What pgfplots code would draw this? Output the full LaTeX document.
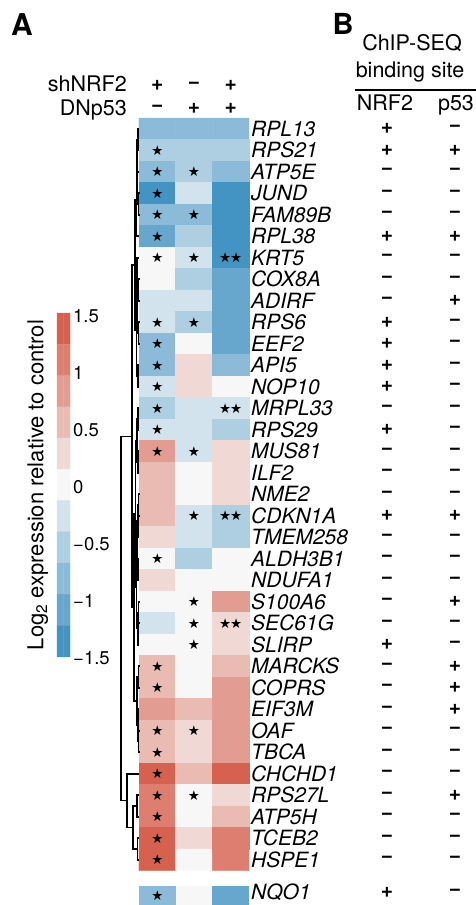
\documentclass[border=0pt]{standalone}
\usepackage{fontspec}
\setmainfont{TeX Gyre Heros}
\newfontfamily\symf{DejaVu Sans}
\usepackage{pgfplots}
\usepackage{pgfplotstable}
\pgfplotsset{compat=1.18}

\definecolor{b5}{HTML}{4393C3}
\definecolor{b4}{HTML}{67A7CD}
\definecolor{b3}{HTML}{8BBBD8}
\definecolor{b2}{HTML}{AFCFE2}
\definecolor{b1}{HTML}{D3E3ED}
\definecolor{w0}{HTML}{F7F7F7}
\definecolor{r1}{HTML}{F0D9D5}
\definecolor{r2}{HTML}{EABBB3}
\definecolor{r3}{HTML}{E39C92}
\definecolor{r4}{HTML}{DD7E70}
\definecolor{r5}{HTML}{D6604D}

\newcommand{\mn}{\symbol{"2212}}
\newcommand{\pl}{+}

% heatmap: column c, row r (top = 0), log2 value v
\pgfplotstableread{
c r v
0 0 -0.82
1 0 -0.82
2 0 -0.82
0 1 -0.55
1 1 -0.55
2 1 -0.55
0 2 -0.82
1 2 -0.55
2 2 -0.82
0 3 -1.36
1 3 -0.27
2 3 -1.36
0 4 -0.82
1 4 -0.82
2 4 -1.36
0 5 -1.09
1 5 -0.55
2 5 -1.36
0 6 0
1 6 -0.27
2 6 -1.36
0 7 0
1 7 -0.55
2 7 -1.09
0 8 -0.27
1 8 -0.27
2 8 -1.09
0 9 -0.27
1 9 -0.55
2 9 -1.09
0 10 -0.82
1 10 0
2 10 -1.09
0 11 -0.82
1 11 0.27
2 11 -0.82
0 12 -0.27
1 12 0.27
2 12 0
0 13 -0.55
1 13 -0.27
2 13 -0.27
0 14 -0.27
1 14 -0.27
2 14 -0.55
0 15 0.82
1 15 -0.27
2 15 0.27
0 16 0.55
1 16 0
2 16 0.27
0 17 0.55
1 17 0
2 17 0.27
0 18 0.55
1 18 -0.27
2 18 -0.55
0 19 0.27
1 19 -0.27
2 19 -0.55
0 20 0
1 20 -0.55
2 20 0
0 21 0.27
1 21 0
2 21 0
0 22 0
1 22 0
2 22 0.82
0 23 -0.27
1 23 0
2 23 0.27
0 24 0
1 24 0
2 24 0.27
0 25 0.55
1 25 0
2 25 0.55
0 26 0.55
1 26 0
2 26 0.82
0 27 0.82
1 27 0.55
2 27 0.82
0 28 0.55
1 28 0.27
2 28 0.82
0 29 0.55
1 29 0.27
2 29 0.82
0 30 1.36
1 30 0.55
2 30 1.36
0 31 1.09
1 31 0
2 31 0.27
0 32 1.09
1 32 0
2 32 0.55
0 33 1.36
1 33 0.27
2 33 1.09
0 34 1.36
1 34 0
2 34 1.09
}\heat

\pgfplotstableread{
c r
0 1
0 2
0 3
0 4
0 5
0 6
0 9
0 10
0 11
0 12
0 13
0 14
0 15
0 20
0 25
0 26
0 28
0 29
0 30
0 31
0 32
0 33
0 34
0 35.69
1 2
1 4
1 6
1 9
1 15
1 18
1 22
1 23
1 24
1 28
1 31
}\onestar

\pgfplotstableread{
c r
2 6
2 13
2 18
2 23
}\twostar

\pgfplotstableread{
c r v
0 0 1.36
1 0 1.36
0 1 1.09
1 1 1.09
0 2 0.82
1 2 0.82
0 3 0.55
1 3 0.55
0 4 0.27
1 4 0.27
0 5 0
1 5 0
0 6 -0.27
1 6 -0.27
0 7 -0.55
1 7 -0.55
0 8 -0.82
1 8 -0.82
0 9 -1.09
1 9 -1.09
0 10 -1.36
1 10 -1.36
}\cbar

\newcommand{\dl}[5]{\addplot[dendro] coordinates {(#4,#2) (#1,#2) (#1,#3) (#5,#3)};}
\newcommand{\gr}[4]{%
  \node[gene] at (axis cs:251,{128.75+21.5*#1}) {#2};
  \node[pm] at (axis cs:387,{128.75+21.5*#1}) {#3};
  \node[pm] at (axis cs:455,{128.75+21.5*#1}) {#4};}

\begin{document}
\begin{tikzpicture}
\tikzset{
  gene/.style={anchor=west, inner sep=0pt, font=\fontsize{21}{21}\selectfont\itshape},
  pm/.style={inner sep=0pt, font=\fontsize{21}{21}\selectfont\bfseries},
  hd/.style={inner sep=0pt, font=\fontsize{21.5}{22}\selectfont},
  cb/.style={anchor=west, inner sep=0pt, font=\fontsize{18.5}{19}\selectfont},
  dendro/.style={black, line width=1.6pt},
}
\begin{axis}[
  scale only axis, width=476pt, height=905pt,
  xmin=0, xmax=476, ymin=0, ymax=905, y dir=reverse,
  hide axis, clip=false,
  colormap={rb}{color=(b5) color=(b4) color=(b3) color=(b2) color=(b1) color=(w0) color=(r1) color=(r2) color=(r3) color=(r4) color=(r5)},
  point meta min=-1.3636, point meta max=1.3636,
]
% heatmap
\addplot[matrix plot*, mesh/cols=3, point meta=explicit]
  table[x expr=157.33+36.67*\thisrow{c}, y expr=128.75+21.5*\thisrow{r}, meta=v] {\heat};
% NQO1 row
\addplot[fill=b3, draw=none] coordinates {(139,886) (175.67,886) (175.67,905) (139,905)} -- cycle;
\addplot[fill=w0, draw=none] coordinates {(175.67,886) (212.33,886) (212.33,905) (175.67,905)} -- cycle;
\addplot[fill=b4, draw=none] coordinates {(212.33,886) (249,886) (249,905) (212.33,905)} -- cycle;
% stars
\addplot[only marks, black, mark=text, text mark={\fontsize{13.5}{13.5}\selectfont\symf ★}, text mark as node=true]
  table[x expr=157.33+36.67*\thisrow{c}, y expr=128.75+21.5*\thisrow{r}] {\onestar};
\addplot[only marks, black, mark=text, text mark={\fontsize{13.5}{13.5}\selectfont\symf ★\kern-1pt★}, text mark as node=true]
  table[x expr=157.33+36.67*\thisrow{c}, y expr=128.75+21.5*\thisrow{r}] {\twostar};
% colour bar
\addplot[matrix plot*, mesh/cols=2, point meta=explicit]
  table[x expr=60.25+6.5*\thisrow{c}, y expr=328.64+31.27*\thisrow{r}, meta=v] {\cbar};
\node[cb] at (axis cs:73,316) {1.5};
\node[cb] at (axis cs:73,373) {1};
\node[cb] at (axis cs:73,430) {0.5};
\node[cb] at (axis cs:73,487) {0};
\node[cb] at (axis cs:73,544) {\mn0.5};
\node[cb] at (axis cs:73,601) {\mn1};
\node[cb] at (axis cs:73,658) {\mn1.5};
\node[rotate=90, anchor=base, inner sep=0pt, font=\fontsize{22}{22}\selectfont] at (axis cs:43.3,485)
  {Log\textsubscript{2} expression relative to control};
% dendrogram
\dl{138}{128.75}{150.25}{139}{139}
\dl{138.5}{193.25}{214.75}{139}{139}
\dl{137.5}{171.75}{204}{139}{138.5}
\dl{137}{139.5}{187.9}{138}{137.5}
\dl{136.5}{163.7}{236.25}{137}{139}
\dl{138.5}{279.25}{300.75}{139}{139}
\dl{138.5}{322.25}{343.75}{139}{139}
\dl{137.5}{290}{333}{138.5}{138.5}
\dl{137}{257.75}{311.5}{139}{137.5}
\dl{138}{365.25}{386.75}{139}{139}
\dl{136.5}{284.6}{376}{137}{138}
\dl{135}{200}{330.3}{136.5}{136.5}
\dl{138}{408.25}{429.75}{139}{139}
\dl{138}{451.25}{472.75}{139}{139}
\dl{137}{419}{462}{138}{138}
\dl{138.5}{494.25}{515.75}{139}{139}
\dl{138}{505}{537.25}{138.5}{139}
\dl{138}{558.75}{580.25}{139}{139}
\dl{137}{521.1}{569.5}{138}{138}
\dl{138.5}{601.75}{623.25}{139}{139}
\dl{138}{612.5}{644.75}{138.5}{139}
\dl{136.5}{545.3}{628.6}{137}{138}
\dl{138.5}{666.25}{687.75}{139}{139}
\dl{138.5}{730.75}{752.25}{139}{139}
\dl{138}{709.25}{741.5}{139}{138.5}
\dl{137}{677}{725.4}{138.5}{138}
\dl{135.5}{440.5}{587}{137}{136.5}
\dl{134}{513.8}{701.2}{135.5}{137}
\dl{132}{265.2}{607.5}{135}{134}
\dl{137}{795.25}{816.75}{139}{139}
\dl{137.5}{838.25}{859.75}{139}{139}
\dl{133}{806}{849}{137}{137.5}
\dl{127}{773.75}{827.5}{139}{133}
\dl{121}{436.4}{800.6}{132}{127}
% headers
\node[anchor=center, inner sep=0pt, font=\fontsize{30}{30}\selectfont\bfseries] at (axis cs:22,25) {A};
\node[anchor=center, inner sep=0pt, font=\fontsize{29}{29}\selectfont\bfseries] at (axis cs:343,24) {B};
\node[hd, anchor=base east] at (axis cs:127,91.7) {shNRF2};
\node[hd, anchor=base east] at (axis cs:127,115) {DNp53};
\node[pm] at (axis cs:157.33,85) {\pl};
\node[pm] at (axis cs:194,85) {\mn};
\node[pm] at (axis cs:230.67,85) {\pl};
\node[pm] at (axis cs:157.33,108) {\mn};
\node[pm] at (axis cs:194,108) {\pl};
\node[pm] at (axis cs:230.67,108) {\pl};
\node[hd, anchor=base] at (axis cs:412,50) {ChIP-SEQ};
\node[hd, anchor=base] at (axis cs:410,77) {binding site};
\draw[line width=1.5pt] (axis cs:355,90) -- (axis cs:476,90);
\node[hd, anchor=base] at (axis cs:385,110) {NRF2};
\node[hd, anchor=base] at (axis cs:456,110) {p53};
% gene labels and ChIP-seq calls
\gr{0}{RPL13}{\pl}{\mn}
\gr{1}{RPS21}{\pl}{\pl}
\gr{2}{ATP5E}{\mn}{\mn}
\gr{3}{JUND}{\mn}{\mn}
\gr{4}{FAM89B}{\mn}{\mn}
\gr{5}{RPL38}{\pl}{\pl}
\gr{6}{KRT5}{\mn}{\mn}
\gr{7}{COX8A}{\mn}{\mn}
\gr{8}{ADIRF}{\mn}{\pl}
\gr{9}{RPS6}{\pl}{\mn}
\gr{10}{EEF2}{\pl}{\mn}
\gr{11}{API5}{\pl}{\mn}
\gr{12}{NOP10}{\pl}{\mn}
\gr{13}{MRPL33}{\mn}{\mn}
\gr{14}{RPS29}{\pl}{\mn}
\gr{15}{MUS81}{\mn}{\mn}
\gr{16}{ILF2}{\mn}{\mn}
\gr{17}{NME2}{\mn}{\mn}
\gr{18}{CDKN1A}{\pl}{\pl}
\gr{19}{TMEM258}{\mn}{\mn}
\gr{20}{ALDH3B1}{\mn}{\mn}
\gr{21}{NDUFA1}{\mn}{\mn}
\gr{22}{S100A6}{\mn}{\pl}
\gr{23}{SEC61G}{\mn}{\mn}
\gr{24}{SLIRP}{\pl}{\mn}
\gr{25}{MARCKS}{\mn}{\pl}
\gr{26}{COPRS}{\mn}{\pl}
\gr{27}{EIF3M}{\mn}{\pl}
\gr{28}{OAF}{\mn}{\mn}
\gr{29}{TBCA}{\mn}{\mn}
\gr{30}{CHCHD1}{\mn}{\mn}
\gr{31}{RPS27L}{\mn}{\pl}
\gr{32}{ATP5H}{\mn}{\mn}
\gr{33}{TCEB2}{\mn}{\mn}
\gr{34}{HSPE1}{\mn}{\mn}
\gr{35.52}{NQO1}{\pl}{\mn}
\end{axis}
\pgfresetboundingbox
\path (0,0) rectangle (476pt,905pt);
\end{tikzpicture}
\end{document}
